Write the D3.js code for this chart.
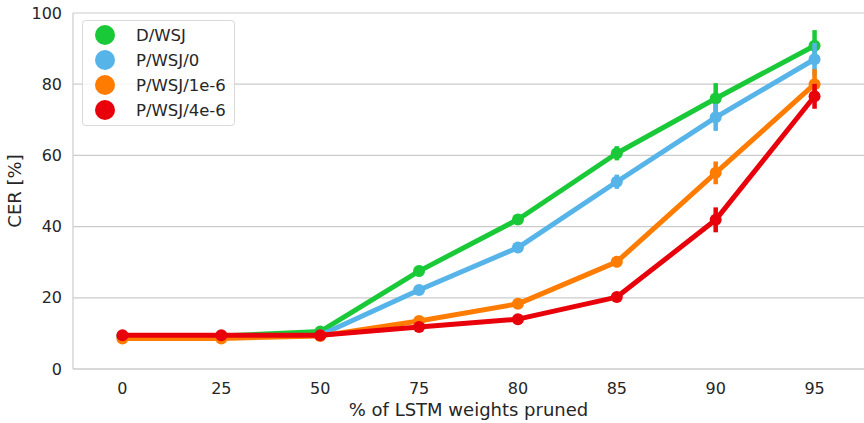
<!DOCTYPE html>
<html>
<head>
<meta charset="utf-8">
<script src="https://cdn.jsdelivr.net/npm/d3@7"></script>
<style>
  body { margin: 0; background: #fff; }
  text { font-family: "DejaVu Sans", sans-serif; fill: #262626; }
</style>
</head>
<body>
<script>
// pruning levels (x categories)
var pruned = ["0", "25", "50", "75", "80", "85", "90", "95"];
var yTicks = [0, 20, 40, 60, 80, 100];

// series names and colors
var seriesNames = ["D/WSJ", "P/WSJ/0", "P/WSJ/1e-6", "P/WSJ/4e-6"];
var seriesColors = ["#1ac938", "#56b4e9", "#ff7c00", "#e8000b"];

// mean CER per pruning level
var dWsj = [9.3, 9.3, 10.5, 27.5, 42.0, 60.6, 76.0, 90.8];
var pWsj0 = [9.2, 9.2, 9.5, 22.2, 34.1, 52.6, 70.7, 87.0];
var pWsj1e6 = [8.6, 8.6, 9.3, 13.5, 18.3, 30.1, 55.1, 80.0];
var pWsj4e6 = [9.5, 9.5, 9.5, 11.8, 14.0, 20.2, 41.9, 76.6];

// error bar half-widths
var dWsjErr = [0.3, 0.3, 0.4, 1.5, 1.5, 2.0, 4.3, 4.4];
var pWsj0Err = [0.3, 0.3, 0.3, 0.8, 1.5, 2.0, 3.8, 4.6];
var pWsj1e6Err = [0.3, 0.3, 0.3, 0.8, 0.8, 1.5, 3.2, 4.2];
var pWsj4e6Err = [0.3, 0.3, 0.3, 0.6, 0.6, 0.8, 3.5, 3.5];

var allValues = [dWsj, pWsj0, pWsj1e6, pWsj4e6];
var allErrors = [dWsjErr, pWsj0Err, pWsj1e6Err, pWsj4e6Err];

var width = 864, height = 423;
var margin = {top: 13, right: 0, bottom: 54, left: 73};

var svg = d3.select("body").append("svg")
    .attr("width", width)
    .attr("height", height);

var x = d3.scaleBand()
    .domain(pruned)
    .range([margin.left, width - margin.right]);

var y = d3.scaleLinear()
    .domain([0, 100])
    .range([height - margin.bottom, margin.top]);

//grid lines
svg.append("g")
    .selectAll("line")
    .data(yTicks)
    .enter()
    .append("line")
    .attr("x1", margin.left)
    .attr("x2", width - margin.right)
    .attr("y1", function(d) { return y(d); })
    .attr("y2", function(d) { return y(d); })
    .attr("stroke", "#cccccc")
    .attr("stroke-width", 1.2);

//spines
svg.append("line")
    .attr("x1", margin.left).attr("x2", margin.left)
    .attr("y1", y(0)).attr("y2", y(100))
    .attr("stroke", "#cccccc").attr("stroke-width", 1.2);
svg.append("line")
    .attr("x1", margin.left).attr("x2", width - margin.right)
    .attr("y1", y(0)).attr("y2", y(0))
    .attr("stroke", "#cccccc").attr("stroke-width", 1.2);

//y tick labels
svg.append("g")
    .selectAll("text")
    .data(yTicks)
    .enter()
    .append("text")
    .attr("x", margin.left - 11)
    .attr("y", function(d) { return y(d); })
    .attr("dy", "0.35em")
    .attr("text-anchor", "end")
    .style("font-size", "16px")
    .text(function(d) { return d; });

//x tick labels
svg.append("g")
    .selectAll("text")
    .data(pruned)
    .enter()
    .append("text")
    .attr("x", function(d) { return x(d) + x.bandwidth() / 2; })
    .attr("y", y(0) + 25)
    .attr("text-anchor", "middle")
    .style("font-size", "16px")
    .text(function(d) { return d; });

//axis titles
svg.append("text")
    .attr("x", (margin.left + width - margin.right) / 2)
    .attr("y", 416)
    .attr("text-anchor", "middle")
    .style("font-size", "18px")
    .text("% of LSTM weights pruned");

svg.append("text")
    .attr("transform", "translate(21," + ((margin.top + y(0)) / 2) + ") rotate(-90)")
    .attr("text-anchor", "middle")
    .style("font-size", "18px")
    .text("CER [%]");

var cx = function(i) { return x(pruned[i]) + x.bandwidth() / 2; };

var line = d3.line()
    .x(function(d, i) { return cx(i); })
    .y(function(d) { return y(d); });

//draw each series: line, error bars, points
allValues.forEach(function(vals, s) {
    var g = svg.append("g");
    var color = seriesColors[s];

    g.append("path")
        .datum(vals)
        .attr("d", line)
        .attr("fill", "none")
        .attr("stroke", color)
        .attr("stroke-width", 5)
        .attr("stroke-linejoin", "round");

    g.selectAll(".err")
        .data(vals)
        .enter()
        .append("line")
        .attr("x1", function(d, i) { return cx(i); })
        .attr("x2", function(d, i) { return cx(i); })
        .attr("y1", function(d, i) { return y(d - allErrors[s][i]); })
        .attr("y2", function(d, i) { return y(d + allErrors[s][i]); })
        .attr("stroke", color)
        .attr("stroke-width", 4.5);

    g.selectAll("circle")
        .data(vals)
        .enter()
        .append("circle")
        .attr("cx", function(d, i) { return cx(i); })
        .attr("cy", function(d) { return y(d); })
        .attr("r", 6)
        .attr("fill", color);
});

//legend
var legend = svg.append("g");
legend.append("rect")
    .attr("x", 82.5).attr("y", 20.5)
    .attr("width", 152).attr("height", 105)
    .attr("rx", 3)
    .attr("fill", "#fff").attr("fill-opacity", 0.8)
    .attr("stroke", "#d9d9d9");

var items = legend.selectAll(".item")
    .data(seriesNames)
    .enter()
    .append("g")
    .attr("transform", function(d, i) { return "translate(0," + (35 + i * 25) + ")"; });

items.append("circle")
    .attr("cx", 105)
    .attr("r", 10)
    .attr("fill", function(d, i) { return seriesColors[i]; });

items.append("text")
    .attr("x", 136)
    .attr("dy", "0.35em")
    .style("font-size", "16.5px")
    .text(function(d) { return d; });
</script>
</body>
</html>
